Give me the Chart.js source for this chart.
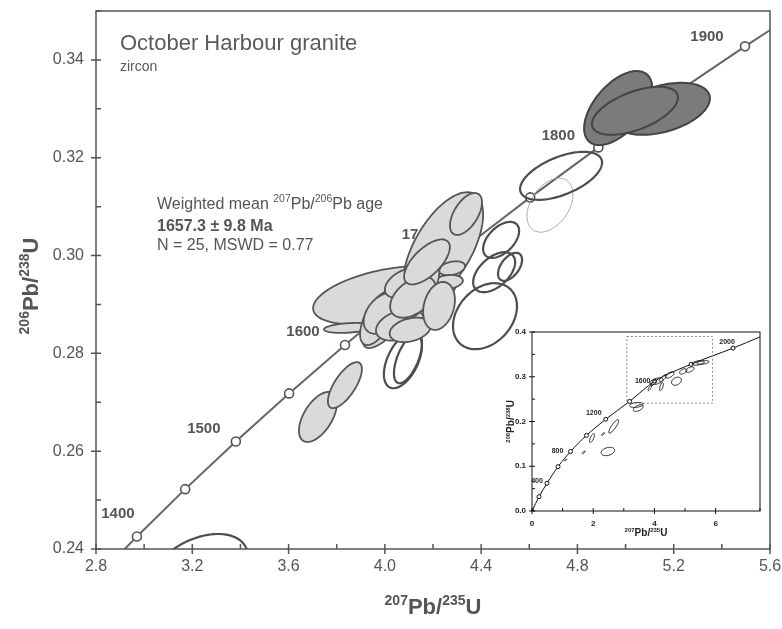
<!DOCTYPE html>
<html>
<head>
<meta charset="utf-8">
<script src="https://cdn.jsdelivr.net/npm/chart.js@4.4.1/dist/chart.umd.min.js"></script>
<style>
  body { margin: 0; background: #fff; }
  #wrap { position: relative; width: 782px; height: 629px; }
  #main { position: absolute; left: 0; top: 0; }
  #inset { position: absolute; left: 490px; top: 322px; }
</style>
</head>
<body>
<div id="wrap">
  <canvas id="main" width="782" height="629"></canvas>
  <canvas id="inset" width="280" height="225"></canvas>
</div>
<script>
// concordia (ages in Ma, 50 Ma steps)
const ages = [1350, 1400, 1450, 1500, 1550, 1600, 1650, 1700, 1750, 1800, 1850, 1900, 1950];
const concX = [2.7793, 2.9701, 3.1705, 3.3810, 3.6021, 3.8344, 4.0784, 4.3348, 4.6040, 4.8869, 5.1840, 5.4962, 5.8241];
const concY = [0.23296, 0.24256, 0.25224, 0.26199, 0.27181, 0.28172, 0.29170, 0.30175, 0.31189, 0.32211, 0.33240, 0.34277, 0.35323];
const labelAges = [1400, 1500, 1600, 1700, 1800, 1900];

// grey filled ellipses (analyses used in the mean): centre, half widths, correlation
const greyX   = [3.722, 3.834, 4.001, 3.847, 4.242, 4.337, 4.279, 4.262, 4.075, 3.972, 4.005, 3.992, 4.063, 4.105, 4.080, 4.146, 4.117, 4.225, 4.175];
const greyY   = [0.2670, 0.2735, 0.2919, 0.2852, 0.3015, 0.3085, 0.2974, 0.2946, 0.2913, 0.2872, 0.2889, 0.2882, 0.2858, 0.2848, 0.2944, 0.2929, 0.2915, 0.2897, 0.2987];
const greySx  = [0.0789, 0.0706, 0.2991, 0.0997, 0.1662, 0.0665, 0.054, 0.0623, 0.1662, 0.075, 0.062, 0.08, 0.1, 0.085, 0.08, 0.08, 0.095, 0.066, 0.095];
const greySy  = [0.00511, 0.00470, 0.00593, 0.00102, 0.01145, 0.00429, 0.00143, 0.00143, 0.01022, 0.0055, 0.0045, 0.0042, 0.0032, 0.0025, 0.003, 0.0058, 0.0042, 0.0049, 0.0046];
const greyRho = [0.55, 0.7, 0.45, 0.3, 0.6, 0.55, 0.3, 0.2, 0.85, 0.6, 0.5, 0.4, 0.35, 0.3, 0.45, 0.65, 0.45, 0.25, 0.65];

// open ellipses (excluded analyses)
const openX   = [3.224, 4.075, 4.096, 4.416, 4.454, 4.520, 4.483, 4.732];
const openY   = [0.2353, 0.2786, 0.2790, 0.2876, 0.2966, 0.2977, 0.3032, 0.3163];
const openSx  = [0.2077, 0.0789, 0.0582, 0.1329, 0.0872, 0.0499, 0.0748, 0.1703];
const openSy  = [0.00777, 0.00573, 0.00511, 0.00675, 0.00409, 0.00286, 0.00368, 0.00491];
const openRho = [0.4, 0.5, 0.6, 0.3, 0.5, 0.5, 0.5, 0.55];

// faint outline
const faintX = [4.686], faintY = [0.3103], faintSx = [0.0956], faintSy = [0.00552], faintRho = [0.4];

// dark filled ellipses
const darkX   = [4.969, 5.151, 5.039];
const darkY   = [0.33016, 0.3300, 0.3296];
const darkSx  = [0.1413, 0.1994, 0.1786];
const darkSy  = [0.00757, 0.00532, 0.00491];
const darkRho = [0.55, 0.4, 0.55];

// inset: whole concordia
const insetX = [0, 0.23, 0.49, 0.85, 1.26, 1.78, 2.41, 3.19, 4.01, 5.2, 6.57, 7.45];
const insetY = [0, 0.032, 0.062, 0.099, 0.133, 0.169, 0.205, 0.245, 0.290, 0.328, 0.364, 0.389];
const insetLabels = ['', '', '400', '', '800', '', '1200', '', '1600', '', '2000', ''];
const insetElX   = [2.48, 2.67, 2.32, 1.96, 1.69, 1.10, 3.41, 3.47, 4.07, 4.28, 4.50, 4.72, 4.94, 5.16, 5.43, 5.59, 3.96, 3.85, 4.23];
const insetElY   = [0.133, 0.189, 0.172, 0.163, 0.131, 0.114, 0.237, 0.230, 0.290, 0.297, 0.304, 0.290, 0.312, 0.316, 0.331, 0.332, 0.286, 0.275, 0.278];
const insetElSx  = [0.22, 0.16, 0.05, 0.08, 0.05, 0.04, 0.22, 0.16, 0.22, 0.12, 0.14, 0.16, 0.12, 0.14, 0.2, 0.2, 0.08, 0.06, 0.06];
const insetElSy  = [0.0093, 0.015, 0.003, 0.01, 0.003, 0.002, 0.0056, 0.0075, 0.0075, 0.008, 0.007, 0.009, 0.006, 0.006, 0.005, 0.004, 0.006, 0.006, 0.009];
const insetElRho = [0.3, 0.85, 0.8, 0.7, 0.8, 0.8, 0.3, 0.5, 0.5, 0.8, 0.6, 0.3, 0.5, 0.5, 0.4, 0.4, 0.7, 0.8, 0.6];
const insetBox = [3.1, 5.9, 0.241, 0.39];

const FONT = '"Liberation Sans", Arial, sans-serif';
const GREY = '#555';

// label offsets (pixels) from the concordia markers
const ageLabelOffset = { 1400: [-19, -23], 1500: [-32, -13], 1600: [-42, -13], 1700: [-47, -12], 1800: [-40, -12], 1900: [-38, -10] };
const insetLabelOffset = { '400': [-10, -2], '800': [-13, 0], '1200': [-12, -6], '1600': [-12, 0], '2000': [-6, -6] };

function ellipsePath(ctx, xs, ys, cx, cy, sx, sy, r) {
  const q = Math.sqrt(1 - r * r);
  ctx.beginPath();
  for (let i = 0; i <= 90; i++) {
    const t = i / 90 * 2 * Math.PI;
    const px = xs.getPixelForValue(cx + sx * Math.cos(t));
    const py = ys.getPixelForValue(cy + sy * (r * Math.cos(t) + q * Math.sin(t)));
    if (i === 0) ctx.moveTo(px, py); else ctx.lineTo(px, py);
  }
  ctx.closePath();
}

// text with superscripts: parts = [[text, isSup], ...], centred on x
function drawRich(ctx, parts, x, y, size, supSize, weight, color) {
  const f = s => weight + ' ' + s + 'px ' + FONT;
  let w = 0;
  parts.forEach(p => { ctx.font = f(p[1] ? supSize : size); w += ctx.measureText(p[0]).width; });
  drawLeftRich(ctx, parts, x - w / 2, y, size, supSize, weight, color);
}

function drawLeftRich(ctx, parts, x, y, size, supSize, weight, color) {
  const f = s => weight + ' ' + s + 'px ' + FONT;
  ctx.fillStyle = color;
  ctx.textAlign = 'left';
  ctx.textBaseline = 'alphabetic';
  let cx = x;
  parts.forEach(p => {
    ctx.font = f(p[1] ? supSize : size);
    ctx.fillText(p[0], cx, p[1] ? y - size * 0.42 : y);
    cx += ctx.measureText(p[0]).width;
  });
}

// ticks, tick labels and frame, all placed from the chart's scales
function drawAxes(chart, o) {
  const ctx = chart.ctx, a = chart.chartArea;
  const xs = chart.scales.x, ys = chart.scales.y;
  ctx.save();
  ctx.strokeStyle = o.color;
  ctx.lineWidth = o.width;
  ctx.beginPath();
  ctx.fillStyle = o.textColor;
  ctx.font = o.font;
  xs.ticks.forEach((t, i) => {
    const px = xs.getPixelForTick(i);
    const lab = o.xLabel(t.value);
    ctx.moveTo(px, a.bottom + (lab ? o.len : 0));
    ctx.lineTo(px, a.bottom - o.len);
    if (lab) {
      ctx.textAlign = 'center';
      ctx.textBaseline = 'middle';
      ctx.fillText(lab, px, a.bottom + o.xGap);
    }
  });
  ys.ticks.forEach((t, i) => {
    const py = ys.getPixelForTick(i);
    const lab = o.yLabel(t.value);
    ctx.moveTo(a.left - (lab ? o.len : 0), py);
    ctx.lineTo(a.left + o.len, py);
    if (lab) {
      ctx.textAlign = 'right';
      ctx.textBaseline = 'middle';
      ctx.fillText(lab, a.left - o.yGap, py);
    }
  });
  ctx.stroke();
  ctx.strokeRect(a.left, a.top, a.right - a.left, a.bottom - a.top);
  ctx.restore();
}

const points = (xs, ys) => xs.map((v, i) => ({ x: v, y: ys[i] }));

const concordiaPlugin = {
  id: 'concordia',
  beforeDatasetsDraw(chart) {
    const ctx = chart.ctx, xs = chart.scales.x, ys = chart.scales.y;
    ctx.save();
    ctx.font = 'bold 15px ' + FONT;
    ctx.fillStyle = GREY;
    ctx.textAlign = 'center';
    ctx.textBaseline = 'middle';
    labelAges.forEach(age => {
      const i = ages.indexOf(age);
      const o = ageLabelOffset[age];
      ctx.fillText(String(age), xs.getPixelForValue(concX[i]) + o[0], ys.getPixelForValue(concY[i]) + o[1]);
    });
    ctx.restore();
  },
  afterDatasetsDraw(chart) {
    const ctx = chart.ctx, a = chart.chartArea, xs = chart.scales.x, ys = chart.scales.y;
    ctx.save();
    ctx.beginPath();
    ctx.rect(a.left, a.top, a.right - a.left, a.bottom - a.top);
    ctx.clip();
    ctx.lineJoin = 'round';

    ctx.strokeStyle = '#aaa';
    ctx.lineWidth = 1;
    faintX.forEach((v, i) => { ellipsePath(ctx, xs, ys, v, faintY[i], faintSx[i], faintSy[i], faintRho[i]); ctx.stroke(); });

    ctx.strokeStyle = '#4d4d4d';
    ctx.lineWidth = 2.2;
    openX.forEach((v, i) => { ellipsePath(ctx, xs, ys, v, openY[i], openSx[i], openSy[i], openRho[i]); ctx.stroke(); });

    ctx.fillStyle = '#dadada';
    ctx.strokeStyle = '#555';
    ctx.lineWidth = 1.8;
    greyX.forEach((v, i) => { ellipsePath(ctx, xs, ys, v, greyY[i], greySx[i], greySy[i], greyRho[i]); ctx.fill(); ctx.stroke(); });

    ctx.fillStyle = '#7b7b7b';
    ctx.strokeStyle = '#444';
    ctx.lineWidth = 2;
    darkX.forEach((v, i) => { ellipsePath(ctx, xs, ys, v, darkY[i], darkSx[i], darkSy[i], darkRho[i]); ctx.fill(); ctx.stroke(); });
    ctx.restore();
  },
  afterDraw(chart) {
    const ctx = chart.ctx, a = chart.chartArea;
    drawAxes(chart, {
      len: 5, color: GREY, width: 1.5, textColor: GREY, font: '16px ' + FONT, xGap: 18, yGap: 12,
      xLabel: v => Math.round(v * 10) % 4 === 0 ? v.toFixed(1) : '',
      yLabel: v => Math.round(v * 100) % 2 === 0 && v < 0.345 ? v.toFixed(2) : ''
    });
    ctx.save();
    ctx.fillStyle = '#5a5a5a';
    ctx.textAlign = 'left';
    ctx.textBaseline = 'alphabetic';
    ctx.font = '22px ' + FONT;
    ctx.fillText('October Harbour granite', a.left + 24, 50);
    ctx.font = '14px ' + FONT;
    ctx.fillText('zircon', a.left + 24, 71);

    drawLeftRich(ctx, [['Weighted mean ', 0], ['207', 1], ['Pb/', 0], ['206', 1], ['Pb age', 0]], 157, 209, 16, 10.5, 'normal', GREY);
    ctx.font = 'bold 16px ' + FONT;
    ctx.fillStyle = GREY;
    ctx.fillText('1657.3 \u00b1 9.8 Ma', 157, 231);
    ctx.font = '16px ' + FONT;
    ctx.fillText('N = 25, MSWD = 0.77', 157, 250);

    drawRich(ctx, [['207', 1], ['Pb/', 0], ['235', 1], ['U', 0]], (a.left + a.right) / 2, 614, 22, 14, 'bold', GREY);
    ctx.translate(38, (a.top + a.bottom) / 2 + 6);
    ctx.rotate(-Math.PI / 2);
    drawRich(ctx, [['206', 1], ['Pb/', 0], ['238', 1], ['U', 0]], 0, 0, 22, 14, 'bold', GREY);
    ctx.restore();
  }
};

new Chart(document.getElementById('main'), {
  type: 'scatter',
  data: {
    datasets: [
      {
        data: points(concX.slice(1, -1), concY.slice(1, -1)),
        showLine: false,
        pointRadius: 4.5,
        pointBackgroundColor: '#fff',
        pointBorderColor: GREY,
        pointBorderWidth: 1.6,
        order: 0
      },
      {
        data: points(concX, concY),
        showLine: true,
        pointRadius: 0,
        borderColor: '#666',
        borderWidth: 2,
        order: 1
      }
    ]
  },
  options: {
    responsive: false,
    animation: false,
    events: [],
    layout: { padding: { left: 0, right: 12, top: 11, bottom: 0 } },
    plugins: { legend: { display: false }, tooltip: { enabled: false } },
    scales: {
      x: {
        type: 'linear', min: 2.8, max: 5.6,
        grid: { display: false, drawTicks: false },
        border: { display: false },
        ticks: { display: false, stepSize: 0.2, autoSkip: false },
        afterFit: s => { s.height = 80; }
      },
      y: {
        type: 'linear', min: 0.24, max: 0.35,
        grid: { display: false, drawTicks: false },
        border: { display: false },
        ticks: { display: false, stepSize: 0.01, autoSkip: false },
        afterFit: s => { s.width = 96; }
      }
    }
  },
  plugins: [concordiaPlugin]
});

// ---- inset ----
const insetPlugin = {
  id: 'insetExtras',
  afterDatasetsDraw(chart) {
    const ctx = chart.ctx, xs = chart.scales.x, ys = chart.scales.y;
    ctx.save();
    ctx.strokeStyle = '#888';
    ctx.lineWidth = 1;
    ctx.setLineDash([2, 2]);
    const x0 = xs.getPixelForValue(insetBox[0]), x1 = xs.getPixelForValue(insetBox[1]);
    const y0 = ys.getPixelForValue(insetBox[2]), y1 = ys.getPixelForValue(insetBox[3]);
    ctx.strokeRect(x0, y1, x1 - x0, y0 - y1);
    ctx.setLineDash([]);
    ctx.strokeStyle = '#111';
    ctx.lineWidth = 1;
    insetElX.forEach((v, i) => { ellipsePath(ctx, xs, ys, v, insetElY[i], insetElSx[i], insetElSy[i], insetElRho[i]); ctx.stroke(); });

    ctx.font = 'bold 7px ' + FONT;
    ctx.fillStyle = '#222';
    ctx.textAlign = 'center';
    ctx.textBaseline = 'middle';
    insetLabels.forEach((l, i) => {
      if (!l) return;
      const o = insetLabelOffset[l];
      ctx.fillText(l, xs.getPixelForValue(insetX[i]) + o[0], ys.getPixelForValue(insetY[i]) + o[1]);
    });
    ctx.restore();
  },
  afterDraw(chart) {
    const ctx = chart.ctx, a = chart.chartArea;
    drawAxes(chart, {
      len: 3, color: '#111', width: 1, textColor: '#222', font: 'bold 8px ' + FONT, xGap: 13, yGap: 6,
      xLabel: v => Math.round(v) % 2 === 0 && v < 7 ? String(Math.round(v)) : '',
      yLabel: v => Math.round(v * 100) % 10 === 0 ? v.toFixed(1) : ''
    });
    ctx.save();
    drawRich(ctx, [['207', 1], ['Pb/', 0], ['235', 1], ['U', 0]], (a.left + a.right) / 2, 214, 10, 6, 'bold', '#222');
    ctx.translate(24, (a.top + a.bottom) / 2);
    ctx.rotate(-Math.PI / 2);
    drawRich(ctx, [['206', 1], ['Pb/', 0], ['238', 1], ['U', 0]], 0, 0, 10, 6, 'bold', '#222');
    ctx.restore();
  }
};

new Chart(document.getElementById('inset'), {
  type: 'scatter',
  data: {
    datasets: [
      {
        data: points(insetX.slice(0, -1), insetY.slice(0, -1)),
        showLine: false,
        pointRadius: 2,
        pointBackgroundColor: '#fff',
        pointBorderColor: '#111',
        pointBorderWidth: 1,
        order: 0
      },
      {
        data: points(insetX, insetY),
        showLine: true,
        tension: 0.4,
        cubicInterpolationMode: 'monotone',
        pointRadius: 0,
        borderColor: '#111',
        borderWidth: 1,
        order: 1
      }
    ]
  },
  options: {
    responsive: false,
    animation: false,
    events: [],
    layout: { padding: { left: 0, right: 10, top: 10, bottom: 0 } },
    plugins: { legend: { display: false }, tooltip: { enabled: false } },
    scales: {
      x: {
        type: 'linear', min: 0, max: 7.45,
        grid: { display: false, drawTicks: false },
        border: { display: false },
        ticks: { display: false, stepSize: 1, autoSkip: false },
        afterFit: s => { s.height = 36; }
      },
      y: {
        type: 'linear', min: 0, max: 0.4,
        grid: { display: false, drawTicks: false },
        border: { display: false },
        ticks: { display: false, stepSize: 0.05, autoSkip: false },
        afterFit: s => { s.width = 42; }
      }
    }
  },
  plugins: [insetPlugin]
});
</script>
</body>
</html>
